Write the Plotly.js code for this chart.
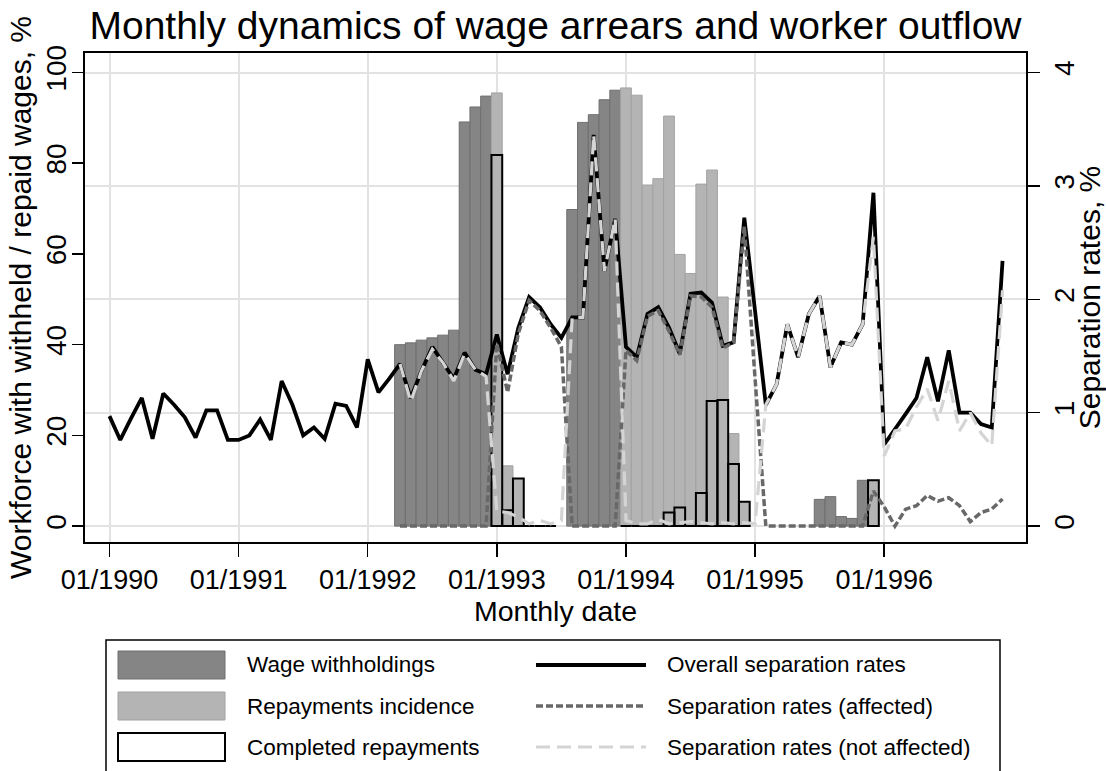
<!DOCTYPE html>
<html>
<head>
<meta charset="utf-8">
<script src="https://cdn.plot.ly/plotly-3.0.1.min.js"></script>
<style>html,body{margin:0;padding:0;background:#fff;}#chart{width:1106px;height:771px;}</style>
</head>
<body>
<div id="chart"></div>
<script>
// ---- DATA (month index 0 = 01/1990, 83 = 12/1996) ----
const nMonths = 84;
const tickLabels = ['01/1990','01/1991','01/1992','01/1993','01/1994','01/1995','01/1996'];
const tickMonths = [0, 12, 24, 36, 48, 60, 72];

// Overall separation rates, % (right axis), months 0..83
const overallSep = [
 0.97,0.76,0.95,1.13,0.77,1.17,1.07,0.96,0.78,1.02,1.02,0.76,
 0.76,0.80,0.94,0.76,1.28,1.07,0.80,0.87,0.77,1.08,1.06,0.87,
 1.47,1.18,1.30,1.43,1.13,1.37,1.58,1.44,1.30,1.53,1.38,1.34,
 1.69,1.34,1.75,2.02,1.93,1.78,1.66,1.84,1.84,3.45,2.25,2.71,
 1.58,1.49,1.87,1.93,1.75,1.52,2.05,2.06,1.97,1.59,1.62,2.72,
 1.90,1.07,1.25,1.78,1.49,1.87,2.03,1.40,1.62,1.60,1.78,2.94,
 0.72,0.85,0.99,1.13,1.49,1.10,1.55,1.00,1.00,0.90,0.87,2.34
];
// Separation rates (affected), % (right axis)
const affectedSep = [
 null,null,null,null,null,null,null,null,null,null,null,null,
 null,null,null,null,null,null,null,null,null,null,null,null,
 null,null,null,0,0,0,0,0,0,0,0,0,
 1.61,1.18,1.70,1.99,1.90,1.75,1.58,0,0,0,0,0,
 1.55,1.46,1.85,1.90,1.72,1.51,2.03,2.02,1.93,1.57,1.62,2.64,
 1.30,0,0,0,0,0,0,0,0,0,0,0.31,
 0.17,0.00,0.15,0.18,0.27,0.22,0.25,0.18,0.04,0.12,0.15,0.24
];
// Separation rates (not affected), % (right axis)
const notAffectedSep = [
 null,null,null,null,null,null,null,null,null,null,null,null,
 null,null,null,null,null,null,null,null,null,null,null,null,
 null,null,null,1.43,1.10,1.37,1.56,1.44,1.28,1.52,1.38,1.32,
 0.13,0.12,0.08,0.02,0.05,0.02,0.05,1.84,1.84,3.45,2.25,2.71,
 0.05,0.02,0.02,0.06,0.02,0.03,0.04,0.03,0.02,0.03,0.02,0.03,
 0.02,1.07,1.25,1.78,1.49,1.87,2.03,1.40,1.62,1.60,1.78,2.55,
 0.62,0.84,0.86,1.05,1.21,0.93,1.28,0.84,1.00,0.82,0.71,2.08
];
// Wage withholdings, % of workforce (left axis)
const withholdings = [
 null,null,null,null,null,null,null,null,null,null,null,null,
 null,null,null,null,null,null,null,null,null,null,null,null,
 null,null,null,40.0,40.4,41.0,41.5,42.1,43.2,89.1,92.4,94.8,
 null,null,null,null,null,null,null,69.8,89.0,90.7,94.0,96.1,
 null,null,null,null,null,null,null,null,null,null,null,null,
 null,null,null,null,null,null,5.9,6.5,2.1,1.7,10.1,null,
 null,null,null,null,null,null,null,null,null,null,null,null
];
// Repayments incidence, % (left axis)
const repayments = [
 null,null,null,null,null,null,null,null,null,null,null,null,
 null,null,null,null,null,null,null,null,null,null,null,null,
 null,null,null,null,null,null,null,null,null,null,null,null,
 95.5,13.3,10.5,null,null,null,null,null,null,null,null,null,
 96.6,95.0,75.2,76.6,90.4,59.9,55.7,75.4,78.5,50.5,20.4,5.4,
 null,null,null,null,null,null,null,null,null,null,null,10.1,
 null,null,null,null,null,null,null,null,null,null,null,null
];
// Completed repayments, % (left axis)
const completed = [
 null,null,null,null,null,null,null,null,null,null,null,null,
 null,null,null,null,null,null,null,null,null,null,null,null,
 null,null,null,null,null,null,null,null,null,null,null,null,
 81.8,3.5,10.5,0,0,0,null,null,null,null,null,null,
 0,0,0,0,3.0,4.1,0,7.3,27.6,27.8,13.7,5.4,
 null,null,null,null,null,null,null,null,null,null,null,10.1,
 null,null,null,null,null,null,null,null,null,null,null,null
];
const seriesNames = {
  withholdings: 'Wage withholdings',
  repayments: 'Repayments incidence',
  completed: 'Completed repayments',
  overall: 'Overall separation rates',
  affected: 'Separation rates (affected)',
  notAffected: 'Separation rates (not affected)'
};

// month index axis (categories)
const months = [];
for (let i = 0; i < nMonths; i++) months.push(i);

// ---- STYLES ----
const C = {
  dark: '#858585', darkLine: '#6f6f6f',
  light: '#b4b4b4', lightLine: '#a2a2a2',
  black: '#000000', affected: '#686868', notAffected: '#d4d4d4',
  grid: '#e2e2e2'
};
const dashAffected = '7px,3px';
const dashNotAffected = '14px,7px';
const FONT = 'Liberation Sans, Arial, Helvetica, sans-serif';

const traces = [
  {type:'bar', x:months, y:withholdings, name:seriesNames.withholdings, width:1,
   marker:{color:C.dark, line:{color:C.darkLine, width:1}}, hoverinfo:'skip'},
  {type:'bar', x:months, y:repayments, name:seriesNames.repayments, width:1,
   marker:{color:C.light, line:{color:C.lightLine, width:1}}, hoverinfo:'skip'},
  {type:'bar', x:months, y:completed, name:seriesNames.completed, width:1,
   marker:{color:'rgba(0,0,0,0)', line:{color:C.black, width:2}}, hoverinfo:'skip'},
  {type:'scatter', mode:'lines', x:months, y:overallSep, yaxis:'y2', name:seriesNames.overall,
   line:{color:C.black, width:3.8}, hoverinfo:'skip'},
  {type:'scatter', mode:'lines', x:months, y:affectedSep, yaxis:'y2', name:seriesNames.affected,
   line:{color:C.affected, width:3.5, dash:dashAffected}, hoverinfo:'skip'},
  {type:'scatter', mode:'lines', x:months, y:notAffectedSep, yaxis:'y2', name:seriesNames.notAffected,
   line:{color:C.notAffected, width:3.2, dash:dashNotAffected}, hoverinfo:'skip'}
];

// ---- LAYOUT ----
const W = 1106, H = 771;
const M = {l:85, r:80, t:53, b:229};
const PW = W - M.l - M.r, PH = H - M.t - M.b;
const px = v => (v - M.l) / PW;
const py = v => (H - M.b - v) / PH;

// custom legend (Stata-style wide keys)
const shapes = [];
const annotations = [];
shapes.push({type:'rect', xref:'paper', yref:'paper', x0:px(106), x1:px(1000), y0:py(640), y1:py(776),
  line:{color:'#000', width:1.5}, fillcolor:'rgba(0,0,0,0)', layer:'above'});
const rowY = [665, 706, 747];
const barKeys = [
  {name:seriesNames.withholdings, fill:C.dark, line:C.darkLine, w:1},
  {name:seriesNames.repayments, fill:C.light, line:C.lightLine, w:1},
  {name:seriesNames.completed, fill:'#ffffff', line:C.black, w:2}
];
const lineKeys = [
  {name:seriesNames.overall, color:C.black, width:3.8, dash:'solid'},
  {name:seriesNames.affected, color:C.affected, width:3.5, dash:dashAffected},
  {name:seriesNames.notAffected, color:C.notAffected, width:3.2, dash:dashNotAffected}
];
barKeys.forEach((k, i) => {
  shapes.push({type:'rect', xref:'paper', yref:'paper', x0:px(118), x1:px(225), y0:py(rowY[i]-14), y1:py(rowY[i]+14),
    fillcolor:k.fill, line:{color:k.line, width:k.w}, layer:'above'});
  annotations.push({xref:'paper', yref:'paper', x:px(245), y:py(rowY[i]), xanchor:'left', yanchor:'middle',
    text:k.name, showarrow:false, font:{size:22.5, family:FONT, color:'#000'}});
});
lineKeys.forEach((k, i) => {
  shapes.push({type:'line', xref:'paper', yref:'paper', x0:px(536), x1:px(646), y0:py(rowY[i]), y1:py(rowY[i]),
    line:{color:k.color, width:k.width, dash:k.dash}, layer:'above'});
  annotations.push({xref:'paper', yref:'paper', x:px(665), y:py(rowY[i]), xanchor:'left', yanchor:'middle',
    text:k.name, showarrow:false, font:{size:22.5, family:FONT, color:'#000'}});
});

const axisCommon = {
  showline:true, linecolor:'#000', linewidth:2, ticks:'outside', tickcolor:'#000', tickwidth:1.5,
  zeroline:false, tickfont:{size:28, family:FONT, color:'#000'}
};

const layout = {
  width:W, height:H,
  margin:{l:M.l, r:M.r, t:M.t, b:M.b, pad:0},
  paper_bgcolor:'#fff', plot_bgcolor:'#fff',
  font:{family:FONT, color:'#000'},
  showlegend:false,
  barmode:'overlay', bargap:0,
  title:{text:'Monthly dynamics of wage arrears and worker outflow', font:{size:39, family:FONT, color:'#000'},
    x:0.5, xref:'paper', xanchor:'center', y:1 - 25/H, yref:'container', yanchor:'middle'},
  xaxis:Object.assign({}, axisCommon, {
    range:[-2.277, 85.18], tickmode:'array', tickvals:tickMonths, ticktext:tickLabels,
    ticklen:13, mirror:true, showgrid:true, gridcolor:C.grid, gridwidth:2,
    tickfont:{size:27, family:FONT, color:'#000'},
    title:{text:'Monthly date', font:{size:28.5, family:FONT, color:'#000'}, standoff:0}
  }),
  yaxis:Object.assign({}, axisCommon, {
    range:[-3.5, 104.3], tickmode:'array', tickvals:[0,20,40,60,80,100], tickangle:-90,
    ticklen:11, ticklabelstandoff:-5, mirror:true, showgrid:false,
    title:{text:'Workforce with withheld / repaid wages, %', font:{size:30, family:FONT, color:'#000'}, standoff:0}
  }),
  yaxis2:Object.assign({}, axisCommon, {
    overlaying:'y', side:'right', range:[-0.14, 4.172], tickmode:'array', tickvals:[0,1,2,3,4], tickangle:-90,
    ticklen:12, showgrid:true, gridcolor:C.grid, gridwidth:2,
    title:{text:'Separation rates, %', font:{size:30, family:FONT, color:'#000'}, standoff:2}
  }),
  shapes:shapes,
  annotations:annotations
};

Plotly.newPlot('chart', traces, layout, {staticPlot:true, displayModeBar:false});
</script>
</body>
</html>
